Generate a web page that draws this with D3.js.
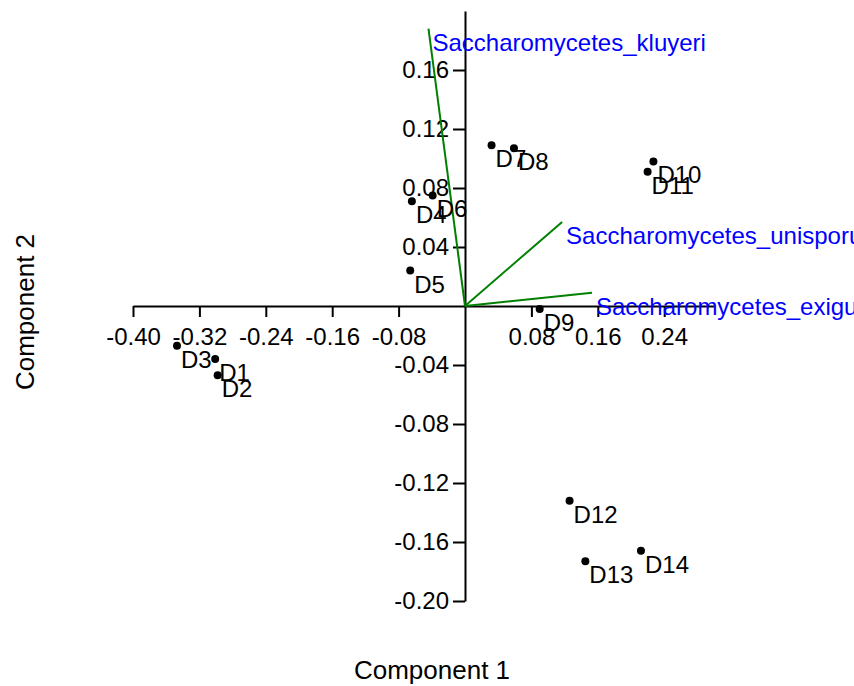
<html>
<head>
  <style>
    body { margin: 0; background: white; }
    text { font-family: "Liberation Sans", Arial, Helvetica, sans-serif; }
  </style>
</head>
<body>
  <svg id="Biplot"></svg>
  <script src="https://cdn.jsdelivr.net/npm/d3@7"></script>
  <script>
    // sample scores
    var sampleNames = ["D1", "D2", "D3", "D4", "D5", "D6", "D7", "D8", "D9", "D10", "D11", "D12", "D13", "D14"];
    var comp1 = [-0.301, -0.298, -0.347, -0.064, -0.066, -0.039, 0.032, 0.059, 0.090, 0.227, 0.220, 0.126, 0.145, 0.212];
    var comp2 = [-0.036, -0.047, -0.027, 0.071, 0.024, 0.075, 0.109, 0.107, -0.002, 0.098, 0.091, -0.132, -0.173, -0.166];

    // loadings
    var varNames = ["Saccharomycetes_kluyeri", "Saccharomycetes_unisporus", "Saccharomycetes_exiguus"];
    var varComp1 = [-0.044, 0.117, 0.153];
    var varComp2 = [0.188, 0.057, 0.009];

    // ticks
    var xTicks = [-0.40, -0.32, -0.24, -0.16, -0.08, 0.08, 0.16, 0.24];
    var yTicks = [-0.20, -0.16, -0.12, -0.08, -0.04, 0.04, 0.08, 0.12, 0.16];

    var width = 854, height = 686;
    var svg = d3.select("#Biplot").attr("width", width).attr("height", height);

    var x = d3.scaleLinear().domain([-0.40, 0.30]).range([133, 714]);
    var y = d3.scaleLinear().domain([-0.20, 0.20]).range([601, 11]);
    var fmt = function(d){ return d.toFixed(2); };

    // axes crossing at the origin
    var xAxis = svg.append("g")
      .attr("transform", "translate(0," + y(0) + ")")
      .call(d3.axisBottom(x).tickValues(xTicks).tickFormat(fmt)
              .tickSizeInner(11).tickSizeOuter(0).tickPadding(11));
    var yAxis = svg.append("g")
      .attr("transform", "translate(" + x(0) + ",0)")
      .call(d3.axisLeft(y).tickValues(yTicks).tickFormat(fmt)
              .tickSizeInner(12).tickSizeOuter(0).tickPadding(4));

    [xAxis, yAxis].forEach(function(a){
      a.selectAll("path, line").attr("stroke", "black").attr("stroke-width", 2);
      a.selectAll("text").attr("fill", "black").style("font-size", "24px")
        .style("font-family", "'Liberation Sans', Arial, sans-serif");
    });

    // loading vectors
    var vectors = varNames.map(function(n, i){ return {name: n, c1: varComp1[i], c2: varComp2[i]}; });
    svg.append("g").selectAll("line")
      .data(vectors)
      .join("line")
      .attr("x1", x(0)).attr("y1", y(0))
      .attr("x2", function(d){ return x(d.c1); })
      .attr("y2", function(d){ return y(d.c2); })
      .attr("stroke", "green")
      .attr("stroke-width", 2);

    // sample points
    var samples = sampleNames.map(function(n, i){ return {name: n, c1: comp1[i], c2: comp2[i]}; });
    svg.append("g").selectAll("circle")
      .data(samples)
      .join("circle")
      .attr("cx", function(d){ return x(d.c1); })
      .attr("cy", function(d){ return y(d.c2); })
      .attr("r", 4)
      .attr("fill", "black");

    svg.append("g").selectAll("text")
      .data(samples)
      .join("text")
      .attr("x", function(d){ return x(d.c1) + 4; })
      .attr("y", function(d){ return y(d.c2) + 22; })
      .style("font-size", "24px")
      .text(function(d){ return d.name; });

    svg.append("g").selectAll("text")
      .data(vectors)
      .join("text")
      .attr("x", function(d){ return x(d.c1) + 4; })
      .attr("y", function(d){ return y(d.c2) + 22; })
      .attr("fill", "blue")
      .style("font-size", "24px")
      .text(function(d){ return d.name; });

    // axis titles
    svg.append("text")
      .attr("x", 432).attr("y", 679)
      .attr("text-anchor", "middle")
      .style("font-size", "26px")
      .text("Component 1");
    svg.append("text")
      .attr("transform", "translate(34,312) rotate(-90)")
      .attr("text-anchor", "middle")
      .style("font-size", "26px")
      .text("Component 2");
  </script>
</body>
</html>
